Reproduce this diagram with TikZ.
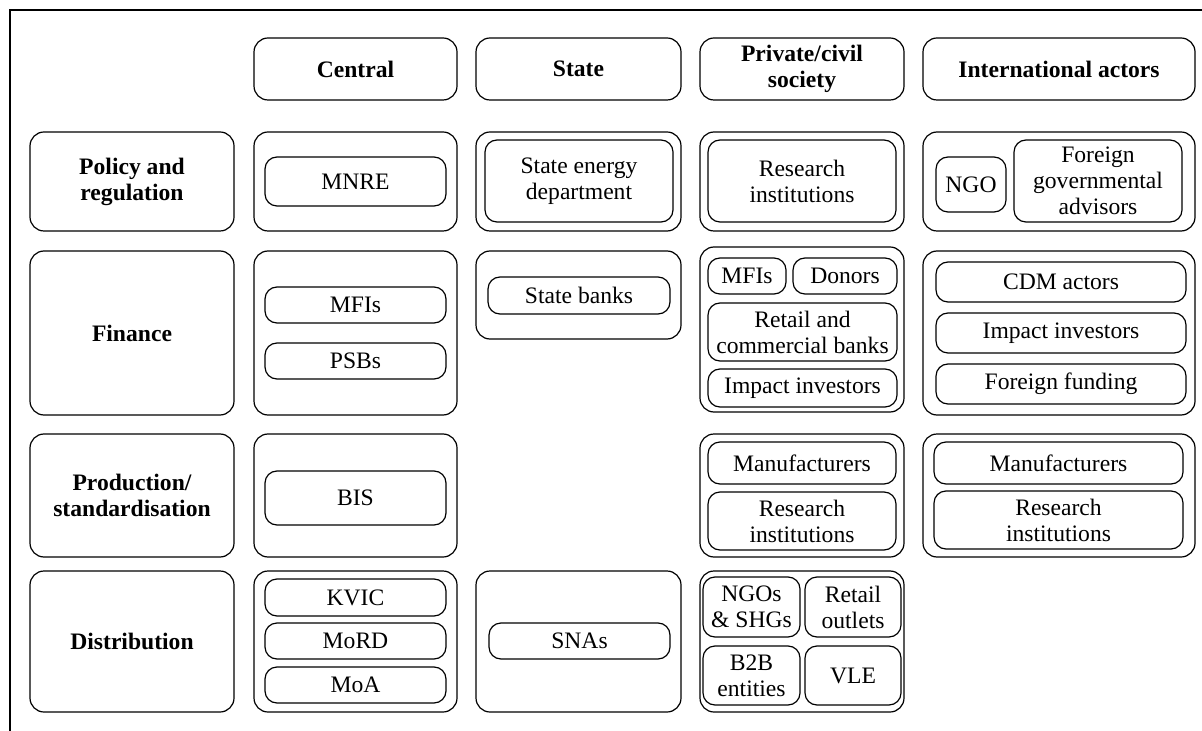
\documentclass[tikz,border=0pt]{standalone}
\usepackage{fontspec}
\setmainfont{Liberation Serif}
\begin{document}
\begin{tikzpicture}[x=0.5pt,y=-0.5pt,
  outerbox/.style={draw,line width=0.6pt,rounded corners=7pt,inner sep=0pt,outer sep=0pt,align=center,font=\fontsize{11.8}{13}\selectfont},
  innerbox/.style={draw,line width=0.6pt,rounded corners=6pt,inner sep=0pt,outer sep=0pt,align=center,font=\fontsize{11.8}{13}\selectfont},
  headbox/.style={outerbox,font=\fontsize{11.8}{13}\selectfont\bfseries}]
\newcommand\B[7]{%
  \pgfmathsetmacro\bw{(#4-#2)*0.5}\pgfmathsetmacro\bh{(#5-#3)*0.5}%
  \node[#6,minimum width=\bw pt,minimum height=\bh pt] (#1) at ({(#2+#4)/2},{(#3+#5)/2}) {#7};}
\useasboundingbox (0,0) rectangle (1202,731);
\coordinate (fa) at (10,731);
\coordinate (fb) at (10,10);
\coordinate (fc) at (1202,10);
\draw[line width=0.6pt] (fa) -- (fb) -- (fc);
% headers
\B{hc}{254}{38}{457}{100}{headbox}{Central}
\B{hs}{476}{38}{681}{100}{headbox}{State}
\B{hp}{700}{38}{904}{100}{headbox}{Private/civil\\society}
\B{hi}{923}{38}{1195}{100}{headbox}{International actors}
% row labels
\B{l1}{30}{132}{234}{231}{headbox}{Policy and\\regulation}
\B{l2}{30}{251}{234}{415}{headbox}{Finance}
\B{l3}{30}{434}{234}{557}{headbox}{Production/\\standardisation}
\B{l4}{30}{571}{234}{712}{headbox}{Distribution}
% row 1
\B{c1}{254}{132}{457}{231}{outerbox}{}
\B{mnre}{265}{157}{446}{206}{innerbox}{MNRE}
\B{s1}{476}{132}{681}{231}{outerbox}{}
\B{sed}{485}{140}{673}{222}{innerbox}{State energy\\department}
\B{p1}{700}{132}{904}{231}{outerbox}{}
\B{pri}{708}{140}{896}{222}{innerbox}{Research\\institutions}
\B{i1}{923}{132}{1195}{231}{outerbox}{}
\B{ngo}{936}{157}{1006}{212}{innerbox}{NGO}
\B{fga}{1014}{140}{1182}{222}{innerbox}{Foreign\\governmental\\advisors}
% row 2
\B{c2}{254}{251}{457}{415}{outerbox}{}
\B{cmfi}{265}{287}{446}{323}{innerbox}{MFIs}
\B{psb}{265}{343}{446}{379}{innerbox}{PSBs}
\B{s2}{476}{251}{681}{339}{outerbox}{}
\B{sb}{488}{277}{670}{314}{innerbox}{State banks}
\B{p2}{700}{247}{904}{412}{outerbox}{}
\B{pmfi}{708}{258}{786}{294}{innerbox}{MFIs}
\B{don}{793}{258}{897}{294}{innerbox}{Donors}
\B{rcb}{708}{303}{897}{361}{innerbox}{Retail and\\commercial banks}
\B{pii}{708}{369}{897}{407}{innerbox}{Impact investors}
\B{i2}{923}{251}{1195}{415}{outerbox}{}
\B{cdm}{936}{262}{1186}{302}{innerbox}{CDM actors}
\B{iii}{936}{313}{1186}{353}{innerbox}{Impact investors}
\B{ff}{936}{364}{1186}{404}{innerbox}{Foreign funding}
% row 3
\B{c3}{254}{434}{457}{557}{outerbox}{}
\B{bis}{265}{471}{446}{525}{innerbox}{BIS}
\B{p3}{700}{434}{904}{557}{outerbox}{}
\B{pman}{708}{442}{896}{484}{innerbox}{Manufacturers}
\B{pri3}{708}{492}{896}{550}{innerbox}{Research\\institutions}
\B{i3}{923}{434}{1195}{557}{outerbox}{}
\B{iman}{934}{442}{1183}{484}{innerbox}{Manufacturers}
\B{iri3}{934}{491}{1183}{549}{innerbox}{Research\\institutions}
% row 4
\B{c4}{254}{571}{457}{712}{outerbox}{}
\B{kvic}{265}{579}{446}{616}{innerbox}{KVIC}
\B{mord}{265}{623}{446}{659}{innerbox}{MoRD}
\B{moa}{265}{667}{446}{703}{innerbox}{MoA}
\B{s4}{476}{571}{681}{712}{outerbox}{}
\B{sna}{489}{623}{670}{659}{innerbox}{SNAs}
\B{p4}{700}{571}{904}{712}{outerbox}{}
\B{ngos}{703}{577}{800}{637}{innerbox}{NGOs\\\& SHGs}
\B{ro}{805}{577}{901}{637}{innerbox}{Retail\\outlets}
\B{b2b}{703}{646}{800}{705}{innerbox}{B2B\\entities}
\B{vle}{805}{646}{901}{705}{innerbox}{VLE}
\end{tikzpicture}
\end{document}
